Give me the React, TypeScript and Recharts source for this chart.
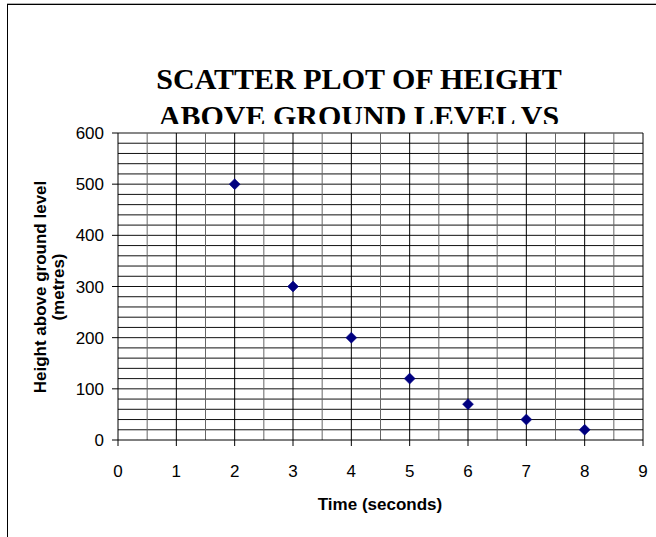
import React from 'react';
import { ScatterChart, Scatter, XAxis, YAxis, ReferenceLine } from 'recharts';

const times = [2, 3, 4, 5, 6, 7, 8];
const heights = [500, 300, 200, 120, 70, 40, 20];

const xTicks = [0, 1, 2, 3, 4, 5, 6, 7, 8, 9];
const yTicks = [0, 100, 200, 300, 400, 500, 600];
const xMinorGrid = [0.5, 1.5, 2.5, 3.5, 4.5, 5.5, 6.5, 7.5, 8.5];
const yGrid = [20, 40, 60, 80, 100, 120, 140, 160, 180, 200, 220, 240, 260, 280, 300, 320, 340, 360, 380, 400, 420, 440, 460, 480, 500, 520, 540, 560, 580, 600];

const titleLines = ['SCATTER PLOT OF HEIGHT', 'ABOVE GROUND LEVEL VS'];
const xTitle = 'Time (seconds)';
const yTitleLines = ['Height above ground level', '(metres)'];

const data = times.map((t, i) => ({ time: t, height: heights[i] }));

const SANS = '"Liberation Sans", Arial, sans-serif';
const SERIF = '"Liberation Serif", "Times New Roman", serif';

const Diamond = (props: any) => {
  const { cx, cy } = props;
  const r = 5.5;
  return (
    <polygon
      points={`${cx},${cy - r} ${cx + r},${cy} ${cx},${cy + r} ${cx - r},${cy}`}
      fill="#000080"
      stroke="#000080"
      strokeWidth={0.5}
    />
  );
};

export default function App() {
  return (
    <div style={{ position: 'absolute', left: 0, top: 0, width: 656, height: 537, overflow: 'hidden', background: '#fff' }}>
      <div
        style={{
          position: 'absolute',
          left: 7,
          top: 4,
          width: 720,
          height: 620,
          borderTop: '1px solid #000',
          borderLeft: '1px solid #000',
          boxShadow: '0 -1px 0 #b0b0b0',
        }}
      />
      <div style={{ position: 'absolute', left: 0, top: 0 }}>
        <ScatterChart width={656} height={537} margin={{ top: 133, right: 13, bottom: 67, left: 58 }}>
          <XAxis
            type="number"
            dataKey="time"
            domain={[0, 9]}
            ticks={xTicks}
            interval={0}
            height={30}
            tickSize={6}
            tickMargin={19}
            axisLine={{ stroke: '#000', strokeWidth: 1 }}
            tickLine={{ stroke: '#000' }}
            tick={{ fontSize: 17, fill: '#000', fontFamily: SANS }}
          />
          <YAxis
            type="number"
            dataKey="height"
            domain={[0, 600]}
            ticks={yTicks}
            interval={0}
            width={60}
            tickSize={6}
            tickMargin={8}
            axisLine={{ stroke: '#000', strokeWidth: 1 }}
            tickLine={{ stroke: '#000' }}
            tick={{ fontSize: 17, fill: '#000', fontFamily: SANS }}
          />
          {yGrid.map((v) => (
            <ReferenceLine key={'y' + v} y={v} stroke="#111" strokeWidth={1} />
          ))}
          {xMinorGrid.map((v) => (
            <ReferenceLine key={'xm' + v} x={v} stroke="#666" strokeWidth={1} />
          ))}
          {xTicks.slice(1).map((v) => (
            <ReferenceLine key={'x' + v} x={v} stroke="#000" strokeWidth={1} />
          ))}
          <Scatter data={data} shape={Diamond} isAnimationActive={false} />
        </ScatterChart>
      </div>
      <svg
        width={656}
        height={537}
        style={{ position: 'absolute', left: 0, top: 0, pointerEvents: 'none' }}
      >
        <defs>
          <clipPath id="titleClip">
            <rect x={0} y={0} width={656} height={124} />
          </clipPath>
        </defs>
        <g clipPath="url(#titleClip)">
          <text x={359} y={89} textAnchor="middle" fontFamily={SERIF} fontWeight="bold" fontSize={30} fill="#000">
            {titleLines[0]}
          </text>
          <text x={359} y={126} textAnchor="middle" fontFamily={SERIF} fontWeight="bold" fontSize={30} fill="#000">
            {titleLines[1]}
          </text>
        </g>
        <text x={380} y={510} textAnchor="middle" fontFamily={SANS} fontWeight="bold" fontSize={17} fill="#000">
          {xTitle}
        </text>
        <text
          transform="translate(46,287) rotate(-90)"
          textAnchor="middle"
          fontFamily={SANS}
          fontWeight="bold"
          fontSize={17}
          fill="#000"
        >
          {yTitleLines[0]}
        </text>
        <text
          transform="translate(64,287) rotate(-90)"
          textAnchor="middle"
          fontFamily={SANS}
          fontWeight="bold"
          fontSize={17}
          fill="#000"
        >
          {yTitleLines[1]}
        </text>
      </svg>
    </div>
  );
}
